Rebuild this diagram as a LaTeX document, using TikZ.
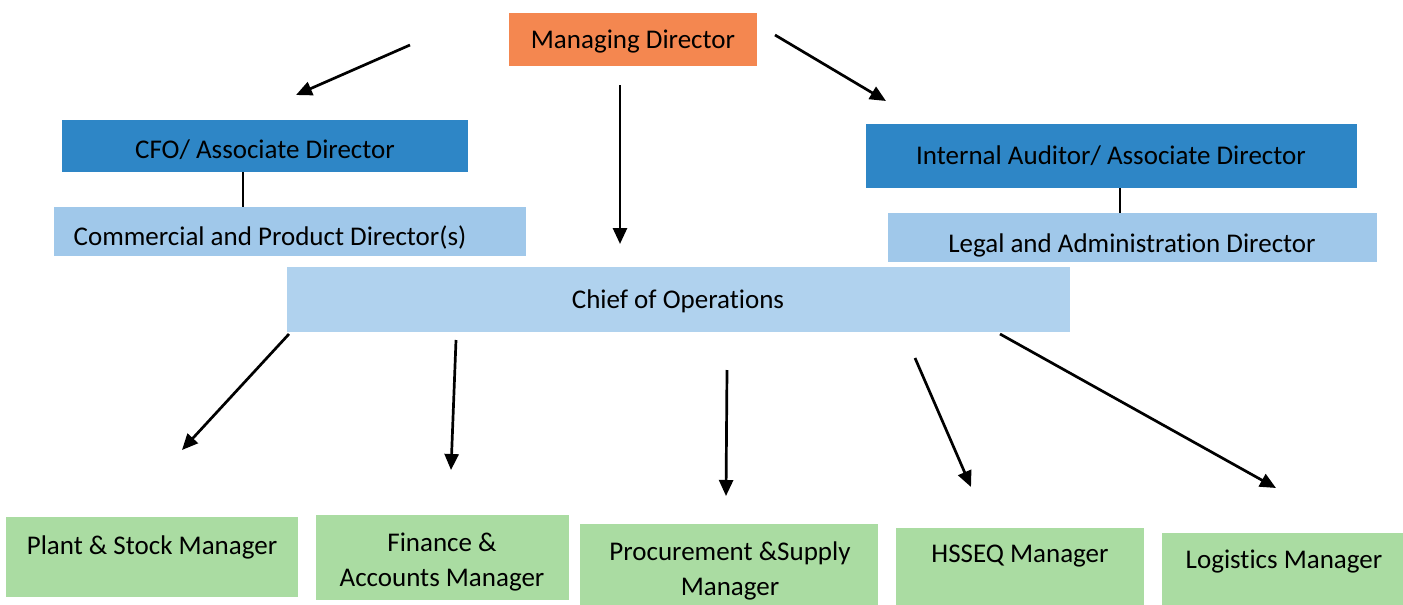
\documentclass[tikz,border=0pt]{standalone}
\usepackage{fontspec}
\setmainfont{Carlito}[Ligatures=NoCommon]
\usetikzlibrary{arrows.meta, positioning}
\definecolor{mdorange}{RGB}{244,135,80}
\definecolor{darkblu}{RGB}{46,134,198}
\definecolor{lightblu}{RGB}{160,200,234}
\definecolor{opsblu}{RGB}{176,210,238}
\definecolor{palegreen}{RGB}{170,220,162}
\tikzset{
    shapenode/.style = {draw=none, rectangle, inner sep=0em, align=center,
      font=\fontsize{13.5}{17.5}\selectfont},
    textnode/.style  = {draw=none, fill=none, rectangle, inner sep=0em, align=center,
      font=\fontsize{13.5}{17.5}\selectfont},
    connect/.style = {black, line width=1.35pt, -{Triangle[length=8pt, width=7pt]}},
    tieline/.style = {black, line width=1pt}
}

\begin{document}
\begin{tikzpicture}[x=0.5pt, y=-0.5pt]
\useasboundingbox (0,0) rectangle (1403,605);

% top level
\node [shapenode, fill=mdorange, minimum width=124pt, minimum height=26.5pt, name=MD] at (633,39.5) {};
\node [textnode, name=MDtext] at (633,42) {Managing Director};

\node [shapenode, fill=darkblu, minimum width=203pt, minimum height=26pt, name=CFO] at (265,146) {};
\node [textnode, name=CFOtext] at (265,150) {CFO/ Associate Director};
\node [shapenode, fill=lightblu, minimum width=236pt, minimum height=24.5pt, name=COM] at (290,231.5) {};
\node [textnode, name=COMtext] at (270,237) {Commercial and Product Director(s)};
\draw [tieline] ([xshift=-11pt]CFO.south) -- ([xshift=-11pt]CFO.south |- COM.north);

\node [shapenode, fill=darkblu, minimum width=245.5pt, minimum height=32pt, name=IA] at (1111.5,156) {};
\node [textnode, name=IAtext] at (1111,156) {Internal Auditor/ Associate Director};
\node [shapenode, fill=lightblu, minimum width=244.5pt, minimum height=24.5pt, name=LEG] at (1132.5,237.5) {};
\node [textnode, name=LEGtext] at (1132,245) {Legal and Administration Director};
\draw [tieline] ([xshift=4.25pt]IA.south) -- ([xshift=4.25pt]IA.south |- LEG.north);

\node [shapenode, fill=opsblu, minimum width=391.5pt, minimum height=32.5pt, name=COO] at (678.5,299.5) {};
\node [textnode, name=COOtext] at (678,301) {Chief of Operations};

% arrows from the managing director
\coordinate (mdl0) at (410,45);  \coordinate (mdl1) at (296,95);
\coordinate (mdr0) at (775,35);  \coordinate (mdr1) at (886,101);
\coordinate (mdd0) at (620,85);  \coordinate (mdd1) at (620,244);
\draw [connect] (mdl0) -- (mdl1);
\draw [connect] (mdr0) -- (mdr1);
\draw [connect] (mdd0) -- (mdd1);

% managers
\node [shapenode, fill=palegreen, minimum width=146pt, minimum height=40pt, name=PSM] at (152,557) {};
\node [textnode, name=PSMtext] at (152,547) {Plant \& Stock Manager};
\node [shapenode, fill=palegreen, minimum width=126.5pt, minimum height=42.5pt, name=FAM] at (442.5,557.5) {};
\node [textnode, name=FAMtext] at (442,562.5) {Finance \&\\Accounts Manager};
\node [shapenode, fill=palegreen, minimum width=149pt, minimum height=43pt, name=PRO] at (729,567) {};
\node [textnode, name=PROtext] at (730,571) {Procurement \&Supply\\Manager};
\node [shapenode, fill=palegreen, minimum width=124pt, minimum height=41pt, name=HSE] at (1020,569) {};
\node [textnode, name=HSEtext] at (1020,556) {HSSEQ Manager};
\node [shapenode, fill=palegreen, minimum width=124pt, minimum height=38.5pt, name=LOG] at (1286,571.5) {};
\node [textnode, name=LOGtext] at (1284,562) {Logistics Manager};

% arrows from the chief of operations
\coordinate (co10) at (289,334);  \coordinate (co11) at (182,450);
\coordinate (co20) at (456,340);  \coordinate (co21) at (451,470);
\coordinate (co30) at (727,370);  \coordinate (co31) at (726,496);
\coordinate (co40) at (915,358);  \coordinate (co41) at (971,487);
\coordinate (co50) at (1000,334); \coordinate (co51) at (1276,488);
\draw [connect] (co10) -- (co11);
\draw [connect] (co20) -- (co21);
\draw [connect] (co30) -- (co31);
\draw [connect] (co40) -- (co41);
\draw [connect] (co50) -- (co51);
\end{tikzpicture}
\end{document}
